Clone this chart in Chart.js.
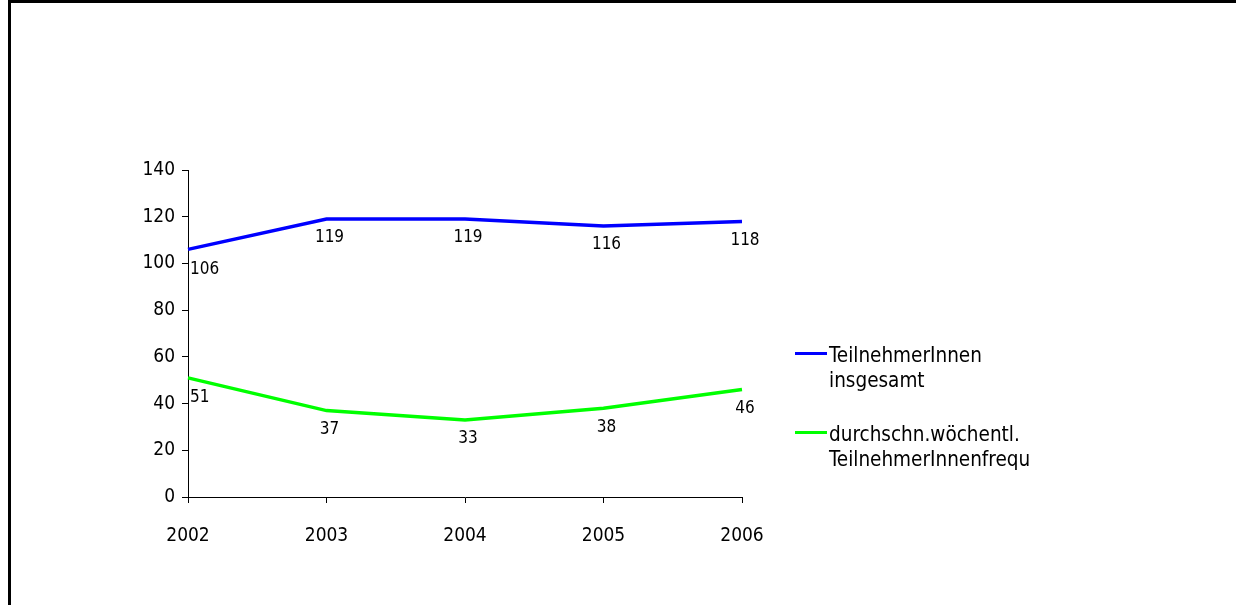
<!DOCTYPE html>
<html>
<head>
<meta charset="utf-8">
<script src="https://cdn.jsdelivr.net/npm/chart.js@4"></script>
<style>
	html, body { margin: 0; padding: 0; background: #fff; overflow: hidden; }
	#wrap { position: relative; width: 1236px; height: 605px; }
	#frame {
		position: absolute; left: 8px; top: 0; width: 1400px; height: 800px;
		border-left: 3px solid #000; border-top: 3px solid #000; pointer-events: none;
	}
	#legend {
		position: absolute; left: 795px; top: 343px;
		font-family: 'DejaVu Sans Condensed', 'DejaVu Sans', sans-serif; font-size: 20.5px; color: #000;
	}
	.item { position: relative; padding-left: 34px; line-height: 25px; margin-bottom: 29px; }
	.item span { position: absolute; left: 0; top: 9px; width: 32px; height: 3px; }
</style>
</head>
<body>
<div id="wrap">
	<canvas id="chart" width="1236" height="605"></canvas>
	<div id="legend"></div>
	<div id="frame"></div>
</div>
<script>
const years = ['2002', '2003', '2004', '2005', '2006'];
const totalParticipants = [106, 119, 119, 116, 118];
const weeklyFrequency = [51, 37, 33, 38, 46];
const seriesNames = [['TeilnehmerInnen', 'insgesamt'], ['durchschn.wöchentl.', 'TeilnehmerInnenfrequ']];
const seriesColors = ['#0000ff', '#00ff00'];
const yTicks = [0, 20, 40, 60, 80, 100, 120, 140];

const FONT = "'DejaVu Sans Condensed', 'DejaVu Sans', sans-serif";

// simple value labels under each point
const pointLabels = {
	id: 'pointLabels',
	afterDatasetsDraw(chart) {
		const ctx = chart.ctx;
		ctx.save();
		ctx.font = '17px ' + FONT;
		ctx.fillStyle = '#000';
		ctx.textBaseline = 'middle';
		chart.data.datasets.forEach((ds, i) => {
			const meta = chart.getDatasetMeta(i);
			meta.data.forEach((pt, j) => {
				if (j === 0) {
					ctx.textAlign = 'left';
					ctx.fillText(ds.data[j], pt.x + 2, pt.y + 20);
				} else {
					ctx.textAlign = 'center';
					ctx.fillText(ds.data[j], pt.x + 3, pt.y + 19);
				}
			});
		});
		ctx.restore();
	}
};

const chart = new Chart(document.getElementById('chart'), {
	type: 'line',
	data: {
		labels: years,
		datasets: [
			{ label: seriesNames[0].join(' '), data: totalParticipants, borderColor: seriesColors[0], borderWidth: 3.5, pointRadius: 0, tension: 0 },
			{ label: seriesNames[1].join(' '), data: weeklyFrequency, borderColor: seriesColors[1], borderWidth: 3.5, pointRadius: 0, tension: 0 }
		]
	},
	options: {
		responsive: false,
		animation: false,
		layout: { padding: { left: 0, top: 170, right: 494, bottom: 0 } },
		plugins: { legend: { display: false }, tooltip: { enabled: false } },
		scales: {
			x: {
				offset: false,
				grid: { display: true, drawOnChartArea: false, color: '#000', tickLength: 6, lineWidth: 1 },
				border: { display: true, color: '#000', width: 1 },
				ticks: { color: '#000', font: { family: FONT, size: 19 }, padding: 22, maxRotation: 0 },
				afterFit(scale) { scale.height = 108; }
			},
			y: {
				min: 0, max: 140,
				afterBuildTicks(scale) { scale.ticks = yTicks.map(v => ({ value: v })); },
				grid: { display: true, drawOnChartArea: false, color: '#000', tickLength: 6, lineWidth: 1 },
				border: { display: true, color: '#000', width: 1 },
				ticks: { color: '#000', font: { family: FONT, size: 19 }, padding: 7 },
				afterFit(scale) { scale.width = 188; }
			}
		}
	},
	plugins: [pointLabels]
});

// legend with wrapped names
const legend = document.getElementById('legend');
seriesNames.forEach((lines, i) => {
	const item = document.createElement('div');
	item.className = 'item';
	const swatch = document.createElement('span');
	swatch.style.background = seriesColors[i];
	item.appendChild(swatch);
	lines.forEach((t, k) => {
		if (k) item.appendChild(document.createElement('br'));
		item.appendChild(document.createTextNode(t));
	});
	legend.appendChild(item);
});
</script>
</body>
</html>
